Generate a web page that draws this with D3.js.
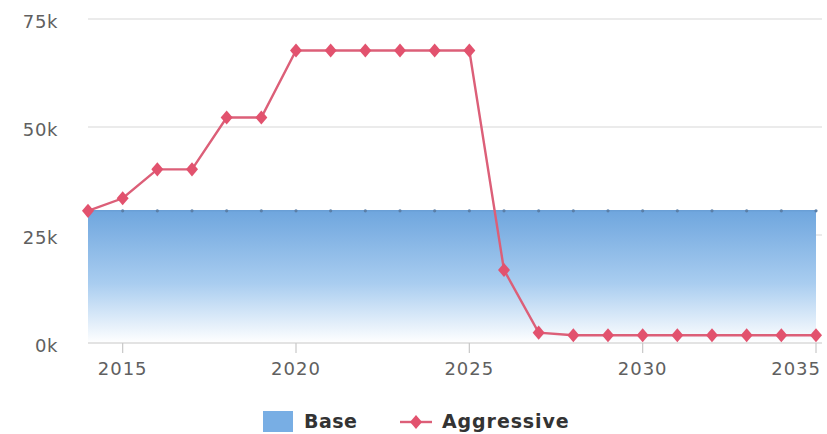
<!DOCTYPE html>
<html>
<head>
<meta charset="utf-8">
<script src="https://cdn.jsdelivr.net/npm/d3@7/dist/d3.min.js"></script>
<style>
  html, body { margin: 0; padding: 0; background: #fff; }
  svg { display: block; }
</style>
</head>
<body>
<svg id="chart" width="827" height="434"></svg>
<script>
// Yearly series
const years = d3.range(2014, 2036);
const baseValues = [30600, 30600, 30600, 30600, 30600, 30600, 30600, 30600, 30600, 30600, 30600,
                    30600, 30600, 30600, 30600, 30600, 30600, 30600, 30600, 30600, 30600, 30600];
const aggressiveValues = [30600, 33500, 40200, 40200, 52200, 52200, 67700, 67700, 67700, 67700, 67700,
                          67700, 16900, 2400, 1800, 1800, 1800, 1800, 1800, 1800, 1800, 1800];
const yTicks = [0, 25000, 50000, 75000];
const xTicks = [2015, 2020, 2025, 2030, 2035];
const seriesNames = ["Base", "Aggressive"];

const svg = d3.select("#chart");
const plotLeft = 88, plotRight = 816, plotTop = 19, plotBottom = 343, gridEnd = 822;

const x = d3.scaleLinear().domain([2014, 2035]).range([plotLeft, plotRight]);
const y = d3.scaleLinear().domain([0, 75000]).range([plotBottom, plotTop]);

const font = "'DejaVu Sans', Verdana, sans-serif";

// Gradient for the base area
const defs = svg.append("defs");
const grad = defs.append("linearGradient")
  .attr("id", "baseFill").attr("x1", 0).attr("y1", 0).attr("x2", 0).attr("y2", 1);
grad.append("stop").attr("offset", "0%").attr("stop-color", "#6fa6de");
grad.append("stop").attr("offset", "55%").attr("stop-color", "#a9cdf0");
grad.append("stop").attr("offset", "100%").attr("stop-color", "#ffffff");

// Horizontal grid lines
svg.append("g").selectAll("line").data(yTicks.filter(d => d > 0)).join("line")
  .attr("x1", plotLeft).attr("x2", gridEnd)
  .attr("y1", d => y(d)).attr("y2", d => y(d))
  .attr("stroke", "#d8d8d8").attr("stroke-width", 1.2);

// Y labels
svg.append("g").selectAll("text").data(yTicks).join("text")
  .attr("x", 58).attr("y", d => y(d) + 9)
  .attr("text-anchor", "end")
  .attr("font-family", font).attr("font-size", 18).attr("letter-spacing", 0.6)
  .attr("fill", "#606060")
  .text(d => (d / 1000) + "k");

// Base area
const baseData = years.map((yr, i) => ({ yr, v: baseValues[i] }));
svg.append("path").datum(baseData)
  .attr("fill", "url(#baseFill)")
  .attr("d", d3.area().x(d => x(d.yr)).y0(y(0)).y1(d => y(d.v)));
svg.append("path").datum(baseData)
  .attr("fill", "none").attr("stroke", "#6a9fd6").attr("stroke-width", 1.5)
  .attr("d", d3.line().x(d => x(d.yr)).y(d => y(d.v)));
svg.append("g").selectAll("circle").data(baseData).join("circle")
  .attr("cx", d => x(d.yr)).attr("cy", d => y(d.v)).attr("r", 1.6)
  .attr("fill", "#5a7fa8");

// X axis line, ticks, labels
svg.append("line").attr("x1", plotLeft).attr("x2", gridEnd).attr("y1", plotBottom).attr("y2", plotBottom)
  .attr("stroke", "#c8c8c8").attr("stroke-width", 1.2);
svg.append("g").selectAll("line").data(xTicks).join("line")
  .attr("x1", d => x(d)).attr("x2", d => x(d))
  .attr("y1", plotBottom).attr("y2", plotBottom + 10)
  .attr("stroke", "#c8c8c8").attr("stroke-width", 1.2);
svg.append("g").selectAll("text").data(xTicks).join("text")
  .attr("x", d => x(d)).attr("y", plotBottom + 32)
  .attr("text-anchor", (d, i) => i === xTicks.length - 1 ? "end" : "middle")
  .attr("dx", (d, i) => i === xTicks.length - 1 ? 5 : 0)
  .attr("font-family", font).attr("font-size", 18).attr("letter-spacing", 1)
  .attr("fill", "#606060")
  .text(d => d);

// Aggressive line with diamond markers
const aggData = years.map((yr, i) => ({ yr, v: aggressiveValues[i] }));
svg.append("path").datum(aggData)
  .attr("fill", "none").attr("stroke", "#dc5f78").attr("stroke-width", 2.4)
  .attr("d", d3.line().x(d => x(d.yr)).y(d => y(d.v)));
const diamond = d3.symbol().type(d3.symbolDiamond).size(80);
svg.append("g").selectAll("path").data(aggData).join("path")
  .attr("transform", d => `translate(${x(d.yr)},${y(d.v)}) scale(1.25,0.85)`)
  .attr("d", diamond)
  .attr("fill", "#e2526e");

// Legend
const lg = svg.append("g");
lg.append("rect").attr("x", 263).attr("y", 411).attr("width", 30).attr("height", 21)
  .attr("fill", "#78aee4");
lg.append("text").attr("x", 304).attr("y", 428)
  .attr("font-family", font).attr("font-size", 19).attr("font-weight", "bold").attr("letter-spacing", 0.5)
  .attr("fill", "#333").text(seriesNames[0]);
lg.append("line").attr("x1", 400).attr("x2", 432).attr("y1", 422).attr("y2", 422)
  .attr("stroke", "#dc5f78").attr("stroke-width", 2.4);
lg.append("path").attr("transform", "translate(416,422) scale(1.25,0.85)").attr("d", diamond).attr("fill", "#e2526e");
lg.append("text").attr("x", 442).attr("y", 428)
  .attr("font-family", font).attr("font-size", 19).attr("font-weight", "bold").attr("letter-spacing", 0.9)
  .attr("fill", "#333").text(seriesNames[1]);
</script>
</body>
</html>
